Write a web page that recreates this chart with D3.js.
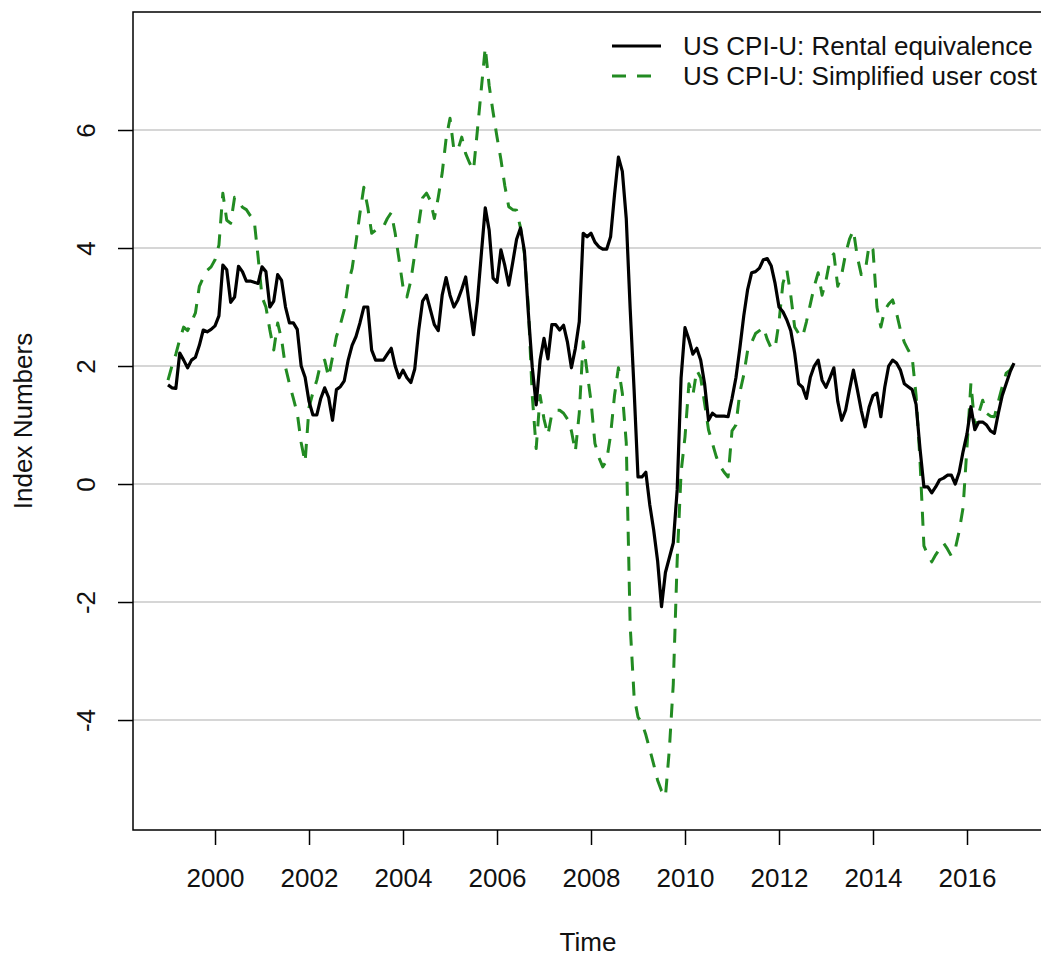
<!DOCTYPE html>
<html>
<head>
<meta charset="utf-8">
<script src="https://cdn.jsdelivr.net/npm/d3@7"></script>
<style>
  html, body { margin: 0; padding: 0; background: #ffffff; }
  svg { display: block; font-family: "Liberation Sans", Arial, sans-serif; }
</style>
</head>
<body>
<svg id="chart" width="1041" height="957"></svg>
<script>
// Monthly series, first observation January 1999
const startYear = 1999;

const rentalEquivalence = [
  1.68, 1.63, 1.62, 2.22, 2.10, 1.97, 2.10, 2.15, 2.35, 2.61, 2.58, 2.62,   // 1999
  2.68, 2.85, 3.71, 3.63, 3.08, 3.17, 3.69, 3.60, 3.44, 3.44, 3.42, 3.40,   // 2000
  3.68, 3.60, 3.00, 3.10, 3.55, 3.45, 3.00, 2.73, 2.73, 2.62, 2.00, 1.81,   // 2001
  1.40, 1.17, 1.17, 1.45, 1.63, 1.47, 1.08, 1.60, 1.65, 1.75, 2.10, 2.35,   // 2002
  2.50, 2.73, 3.00, 3.00, 2.27, 2.10, 2.10, 2.10, 2.20, 2.30, 2.00, 1.80,   // 2003
  1.93, 1.80, 1.72, 1.95, 2.60, 3.10, 3.20, 2.95, 2.70, 2.60, 3.20, 3.50,   // 2004
  3.20, 3.00, 3.12, 3.30, 3.51, 3.00, 2.53, 3.10, 3.90, 4.68, 4.30, 3.49,   // 2005
  3.42, 3.97, 3.70, 3.37, 3.75, 4.15, 4.34, 3.95, 2.90, 1.98, 1.34, 2.10,   // 2006
  2.47, 2.12, 2.70, 2.70, 2.61, 2.69, 2.40, 1.97, 2.30, 2.75, 4.25, 4.19,   // 2007
  4.25, 4.10, 4.02, 3.98, 3.98, 4.19, 4.90, 5.54, 5.30, 4.50, 2.97, 1.60,   // 2008
  0.12, 0.12, 0.20, -0.35, -0.78, -1.30, -2.08, -1.50, -1.25, -1.00, -0.10, 1.80, // 2009
  2.65, 2.45, 2.20, 2.30, 2.10, 1.70, 1.08, 1.20, 1.15, 1.15, 1.15, 1.14,   // 2010
  1.45, 1.80, 2.30, 2.85, 3.30, 3.58, 3.60, 3.66, 3.80, 3.82, 3.70, 3.40,   // 2011
  3.00, 2.92, 2.78, 2.60, 2.22, 1.70, 1.64, 1.45, 1.81, 2.00, 2.10, 1.76,   // 2012
  1.64, 1.80, 1.97, 1.40, 1.08, 1.25, 1.60, 1.93, 1.60, 1.25, 0.97, 1.30,   // 2013
  1.50, 1.54, 1.14, 1.64, 2.00, 2.10, 2.05, 1.93, 1.70, 1.65, 1.60, 1.35,   // 2014
  0.60, -0.05, -0.05, -0.15, -0.05, 0.07, 0.10, 0.15, 0.15, 0.00, 0.20, 0.55, // 2015
  0.85, 1.31, 0.92, 1.05, 1.05, 1.00, 0.90, 0.86, 1.20, 1.50, 1.70, 1.90,   // 2016
  2.05                                                                      // 2017
];

const userCost = [
  1.76, 2.00, 2.20, 2.45, 2.66, 2.60, 2.75, 2.90, 3.35, 3.50, 3.62, 3.68,   // 1999
  3.80, 4.05, 4.93, 4.47, 4.42, 4.86, 4.80, 4.69, 4.65, 4.55, 4.47, 3.85,   // 2000
  3.17, 3.00, 2.61, 2.27, 2.73, 2.45, 1.98, 1.70, 1.45, 1.20, 0.70, 0.37,   // 2001
  1.30, 1.55, 1.76, 2.05, 2.10, 1.81, 2.15, 2.50, 2.70, 2.95, 3.40, 3.65,   // 2002
  4.10, 4.59, 5.03, 4.69, 4.25, 4.30, 4.31, 4.36, 4.50, 4.60, 4.25, 3.80,   // 2003
  3.34, 3.17, 3.45, 3.90, 4.40, 4.85, 4.93, 4.80, 4.50, 4.86, 5.27, 5.85,   // 2004
  6.20, 5.66, 5.66, 5.88, 5.60, 5.44, 5.32, 6.00, 6.70, 7.40, 6.75, 6.30,   // 2005
  5.88, 5.50, 5.05, 4.70, 4.65, 4.64, 4.34, 3.90, 3.00, 1.50, 0.60, 1.50,   // 2006
  1.10, 0.83, 1.19, 1.25, 1.25, 1.20, 1.10, 0.90, 0.55, 1.20, 2.41, 1.90,   // 2007
  1.40, 0.69, 0.45, 0.29, 0.40, 0.83, 1.50, 1.97, 1.54, 0.70, -2.40, -3.60, // 2008
  -3.95, -4.05, -4.25, -4.50, -4.75, -5.02, -5.20, -5.30, -4.50, -3.40, -1.30, 0.20, // 2009
  0.80, 1.70, 1.50, 1.93, 1.80, 1.37, 0.92, 0.69, 0.46, 0.30, 0.20, 0.12,   // 2010
  0.90, 1.00, 1.55, 1.85, 2.27, 2.40, 2.55, 2.60, 2.66, 2.45, 2.30, 2.30,   // 2011
  2.75, 3.40, 3.63, 3.20, 2.66, 2.55, 2.49, 2.75, 3.05, 3.35, 3.58, 3.20,   // 2012
  3.45, 3.80, 3.90, 3.35, 3.55, 3.90, 4.15, 4.30, 3.85, 3.55, 3.60, 4.05,   // 2013
  3.97, 3.00, 2.66, 2.95, 3.05, 3.12, 2.90, 2.61, 2.40, 2.27, 2.15, 1.50,   // 2014
  0.40, -1.05, -1.20, -1.32, -1.20, -1.10, -1.00, -1.10, -1.22, -1.10, -0.80, -0.40, // 2015
  0.63, 1.71, 0.97, 1.20, 1.42, 1.20, 1.15, 1.14, 1.40, 1.65, 1.88, 1.93,   // 2016
  2.05                                                                      // 2017
];

const xTicks = [2000, 2002, 2004, 2006, 2008, 2010, 2012, 2014, 2016];
const yTicks = [-4, -2, 0, 2, 4, 6];
const seriesNames = ["US CPI-U: Rental equivalence", "US CPI-U: Simplified user cost"];
const seriesColors = ["#000000", "#228B22"];

// Layout
const plot = { left: 133, right: 1043, top: 12, bottom: 830 };
const fontSize = 26;
const textColor = "#111111";
const plainNumber = d => String(d);   // keeps an ASCII hyphen for negatives

const svg = d3.select("#chart");

const x = d3.scaleLinear().domain([1998.255, 2017.617]).range([plot.left, plot.right]);
const y = d3.scaleLinear().domain([-5.864, 8.0]).range([plot.bottom, plot.top]);

// Horizontal reference lines
svg.append("g")
  .selectAll("line")
  .data(yTicks)
  .join("line")
  .attr("x1", plot.left)
  .attr("x2", plot.right)
  .attr("y1", d => y(d))
  .attr("y2", d => y(d))
  .attr("stroke", "#c8c8c8")
  .attr("stroke-width", 1.5);

// Series lines
const line = d3.line()
  .x((d, i) => x(startYear + i / 12))
  .y(d => y(d));

svg.append("path")
  .datum(userCost)
  .attr("d", line)
  .attr("fill", "none")
  .attr("stroke", seriesColors[1])
  .attr("stroke-width", 3)
  .attr("stroke-dasharray", "14,11")
  .attr("stroke-linejoin", "round");

svg.append("path")
  .datum(rentalEquivalence)
  .attr("d", line)
  .attr("fill", "none")
  .attr("stroke", seriesColors[0])
  .attr("stroke-width", 3.2)
  .attr("stroke-linejoin", "round");

// Plot frame
svg.append("rect")
  .attr("x", plot.left)
  .attr("y", plot.top)
  .attr("width", plot.right - plot.left)
  .attr("height", plot.bottom - plot.top)
  .attr("fill", "none")
  .attr("stroke", "#000")
  .attr("stroke-width", 1.5);

// Bottom axis
const xAxis = svg.append("g")
  .attr("transform", `translate(0,${plot.bottom})`)
  .call(d3.axisBottom(x).tickValues(xTicks).tickFormat(plainNumber).tickSize(15).tickPadding(24));
xAxis.select(".domain").remove();
xAxis.selectAll("line").attr("stroke", "#000").attr("stroke-width", 1.5);
xAxis.selectAll("text")
  .attr("font-size", fontSize)
  .attr("font-family", "Liberation Sans, Arial, sans-serif")
  .attr("fill", textColor);

// Left axis with labels running parallel to the axis
const yAxis = svg.append("g")
  .attr("transform", `translate(${plot.left},0)`)
  .call(d3.axisLeft(y).tickValues(yTicks).tickFormat(plainNumber).tickSize(15));
yAxis.select(".domain").remove();
yAxis.selectAll("line").attr("stroke", "#000").attr("stroke-width", 1.5);
yAxis.selectAll("text")
  .attr("transform", "rotate(-90)")
  .attr("x", 0)
  .attr("y", -(plot.left - 95))
  .attr("dy", 0)
  .attr("text-anchor", "middle")
  .attr("font-size", fontSize)
  .attr("font-family", "Liberation Sans, Arial, sans-serif")
  .attr("fill", textColor);

// Axis titles
svg.append("text")
  .attr("x", (plot.left + plot.right) / 2)
  .attr("y", 951)
  .attr("text-anchor", "middle")
  .attr("font-size", fontSize)
  .attr("fill", textColor)
  .text("Time");

svg.append("text")
  .attr("transform", `translate(32,${(plot.top + plot.bottom) / 2}) rotate(-90)`)
  .attr("text-anchor", "middle")
  .attr("font-size", fontSize)
  .attr("fill", textColor)
  .text("Index Numbers");

// Legend
const legend = svg.append("g");
const legendRows = [
  { name: seriesNames[0], color: seriesColors[0], dash: null, yPos: 46 },
  { name: seriesNames[1], color: seriesColors[1], dash: "14,11", yPos: 76 }
];
legendRows.forEach(r => {
  legend.append("line")
    .attr("x1", 612).attr("x2", 661)
    .attr("y1", r.yPos).attr("y2", r.yPos)
    .attr("stroke", r.color)
    .attr("stroke-width", 3)
    .attr("stroke-dasharray", r.dash);
  legend.append("text")
    .attr("x", 683)
    .attr("y", r.yPos + 9)
    .attr("font-size", fontSize)
    .attr("fill", textColor)
    .text(r.name);
});
</script>
</body>
</html>
